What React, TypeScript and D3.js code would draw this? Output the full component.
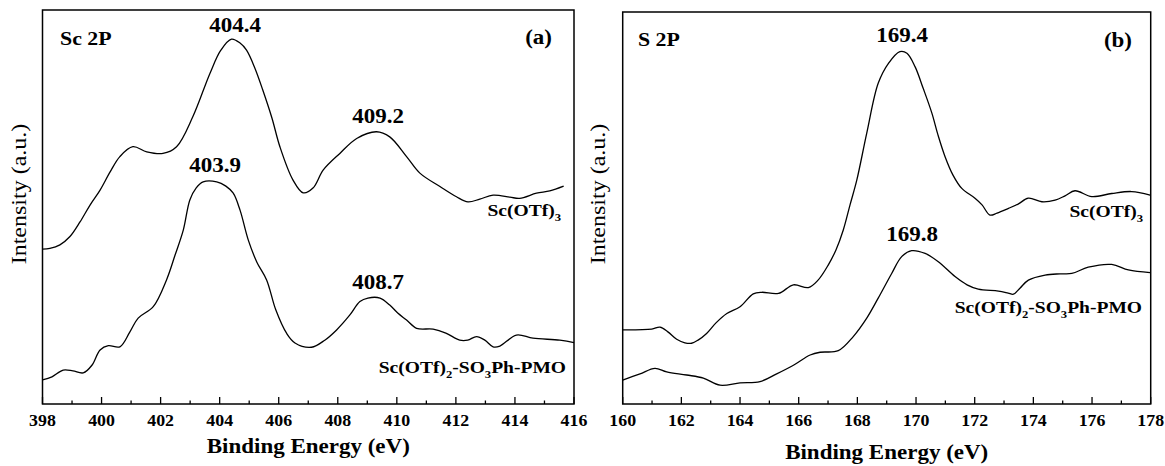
import React from "react";
import * as d3 from "d3";

// ---------- data (energy eV, intensity a.u.) ----------
const scEnergyA = [398.0, 398.25, 398.59, 398.93, 399.27, 399.61, 399.95, 400.29, 400.62, 401.06, 401.53, 402.08, 402.54, 403.09, 403.67, 404.04, 404.4, 404.69, 404.91, 405.19, 405.46, 405.77, 406.04, 406.48, 406.83, 407.16, 407.51, 408.07, 408.64, 409.31, 409.76, 410.33, 410.78, 411.46, 412.02, 412.41, 412.81, 413.26, 413.83, 414.16, 414.73, 415.18, 415.65];
const scOTf3A = [39.3, 39.5, 40.4, 42.5, 46.2, 50.5, 54.3, 58.9, 62.8, 65.3, 64.0, 63.6, 65.3, 72.9, 83.9, 89.8, 92.6, 91.6, 89.8, 85.3, 79.7, 72.6, 65.3, 56.9, 53.6, 54.8, 59.4, 63.6, 67.4, 69.1, 67.8, 62.8, 58.6, 55.2, 52.6, 51.3, 52.0, 53.0, 52.5, 52.2, 53.5, 54.1, 55.3];

const pmoEnergyA = [398.0, 398.32, 398.7, 399.03, 399.38, 399.68, 399.95, 400.23, 400.62, 400.96, 401.24, 401.75, 402.2, 402.49, 402.77, 402.99, 403.2, 403.44, 403.9, 404.21, 404.46, 404.69, 404.97, 405.26, 405.59, 405.9, 406.27, 406.55, 407.11, 407.56, 407.96, 408.41, 408.75, 409.02, 409.43, 409.76, 410.03, 410.33, 410.67, 411.23, 411.66, 412.13, 412.4, 412.7, 412.98, 413.26, 413.49, 414.05, 414.61, 415.52, 416.0];
const pmoA = [6.1, 6.9, 8.6, 8.4, 7.9, 9.9, 13.7, 14.8, 14.5, 18.3, 21.8, 24.7, 31.5, 37.8, 44.2, 51.8, 54.8, 56.4, 56.4, 55.3, 53.5, 49.2, 41.6, 36.0, 31.5, 23.9, 17.9, 15.5, 14.4, 16.2, 18.8, 22.6, 26.0, 26.9, 26.9, 25.1, 23.1, 21.3, 19.2, 19.0, 18.0, 16.2, 16.2, 17.1, 16.2, 14.5, 14.7, 17.5, 16.7, 16.2, 15.6];

const sEnergyB = [160.0, 160.99, 161.27, 161.54, 161.84, 162.12, 162.35, 162.57, 162.86, 163.18, 163.55, 164.0, 164.45, 164.74, 165.31, 165.82, 166.33, 166.66, 167.01, 167.27, 167.52, 167.75, 167.98, 168.32, 168.71, 169.06, 169.45, 169.69, 169.97, 170.24, 170.54, 170.75, 170.99, 171.26, 171.56, 172.01, 172.25, 172.52, 172.76, 173.15, 173.48, 173.83, 174.29, 174.74, 175.08, 175.42, 175.99, 176.67, 177.35, 177.98];
const scOTf3B = [18.9, 19.1, 19.6, 18.4, 16.5, 15.6, 15.5, 16.3, 18.0, 20.7, 23.1, 24.8, 28.1, 28.5, 28.2, 30.4, 29.7, 31.6, 35.5, 39.3, 44.4, 50.8, 57.1, 69.1, 81.8, 86.9, 89.9, 89.5, 86.0, 80.6, 74.2, 68.6, 63.1, 58.4, 55.0, 52.5, 50.8, 48.2, 48.7, 49.9, 51.0, 52.5, 51.6, 52.0, 53.1, 54.4, 52.9, 53.7, 54.2, 53.3];

const pmoEnergyB = [160.0, 160.59, 161.1, 161.5, 162.18, 162.75, 163.32, 164.0, 164.68, 165.25, 165.82, 166.39, 166.73, 167.35, 167.86, 168.32, 168.71, 169.17, 169.51, 169.85, 170.31, 170.76, 171.33, 171.74, 172.12, 172.81, 173.14, 173.32, 173.55, 173.83, 174.4, 174.91, 175.31, 175.87, 176.67, 177.24, 177.98];
const pmoB = [6.1, 7.7, 9.1, 8.2, 7.4, 6.6, 4.8, 5.4, 5.7, 7.7, 9.9, 12.5, 13.2, 13.6, 17.2, 21.9, 27.0, 33.3, 37.6, 39.1, 38.4, 36.3, 32.5, 30.4, 29.3, 28.8, 28.3, 28.0, 29.6, 31.6, 32.9, 33.2, 33.3, 34.9, 35.6, 34.2, 33.5];

const majorTicksA = [398, 400, 402, 404, 406, 408, 410, 412, 414, 416];
const minorTicksA = [399, 401, 403, 405, 407, 409, 411, 413, 415];
const majorTicksB = [160, 162, 164, 166, 168, 170, 172, 174, 176, 178];
const minorTicksB = [161, 163, 165, 167, 169, 171, 173, 175, 177];

const peakTextsA = ["404.4", "403.9", "409.2", "408.7"];
const peakTextsB = ["169.4", "169.8"];

const FONT = "Times New Roman";
const SX = 1.15;

type Pt = [number, number];
const zip = (xs: number[], ys: number[]): Pt[] => xs.map((x, k) => [x, ys[k]]);

function HText({ x, y, size, anchor = "start", weight = "bold", sx = SX, children }: any) {
  return (
    <text
      transform={`translate(${x},${y}) scale(${sx},1)`}
      fontFamily={FONT}
      fontSize={size}
      fontWeight={weight}
      textAnchor={anchor}
      fill="#000"
    >
      {children}
    </text>
  );
}

function Panel({ domain, range, top, series, majors, minors, peaks, tag, title, labelTop, labelBot, yTitleX, xTitleY }: any) {
  const x = d3.scaleLinear().domain(domain).range(range);
  const y = d3.scaleLinear().domain([0, 100]).range([404, top]);
  const line = d3
    .line<Pt>()
    .x((d) => x(d[0]))
    .y((d) => y(d[1]))
    .curve(d3.curveCatmullRom.alpha(0.5));
  const [x0, x1] = range;
  const cx = (x0 + x1) / 2;
  return (
    <g fontFamily={FONT}>
      {series.map((s: Pt[], k: number) => (
        <path key={k} d={line(s) || ""} fill="none" stroke="#000" strokeWidth={1.3} />
      ))}
      <rect x={x0} y={top} width={x1 - x0} height={404 - top} fill="none" stroke="#000" strokeWidth={1.5} />
      {majors.map((t: number) => (
        <g key={"M" + t}>
          <line x1={x(t)} x2={x(t)} y1={404} y2={397} stroke="#000" strokeWidth={1.3} />
          <HText x={x(t)} y={426} size={17} anchor="middle" sx={1.05}>
            {t}
          </HText>
        </g>
      ))}
      {minors.map((t: number) => (
        <line key={"m" + t} x1={x(t)} x2={x(t)} y1={404} y2={400.5} stroke="#000" strokeWidth={1.3} />
      ))}
      {peaks.map((p: any, k: number) => (
        <HText key={k} x={p.lx} y={p.ly} size={20} anchor="middle">
          {p.text}
        </HText>
      ))}
      <HText x={title.x} y={title.y} size={19}>{title.text}</HText>
      <HText x={tag.x} y={tag.y} size={20} anchor="end">{tag.text}</HText>
      <HText x={labelTop.x} y={labelTop.y} size={17} anchor="end">
        Sc(OTf)<tspan fontSize={11} dy={5}>3</tspan>
      </HText>
      <HText x={labelBot.x} y={labelBot.y} size={17} anchor="end">
        Sc(OTf)<tspan fontSize={11} dy={5}>2</tspan>
        <tspan dy={-5}>-SO</tspan>
        <tspan fontSize={11} dy={5}>3</tspan>
        <tspan dy={-5}>Ph-PMO</tspan>
      </HText>
      <text
        transform={`translate(${yTitleX},194) rotate(-90) scale(1.2,1)`}
        fontFamily={FONT}
        fontSize={20}
        textAnchor="middle"
      >
        Intensity (a.u.)
      </text>
      <HText x={cx} y={xTitleY} size={20} anchor="middle">Binding Energy (eV)</HText>
    </g>
  );
}

export default function App() {
  const peaksA = [
    { text: peakTextsA[0], lx: 235, ly: 32 },
    { text: peakTextsA[1], lx: 215, ly: 172 },
    { text: peakTextsA[2], lx: 378, ly: 123 },
    { text: peakTextsA[3], lx: 378, ly: 289 },
  ];
  const peaksB = [
    { text: peakTextsB[0], lx: 902, ly: 42 },
    { text: peakTextsB[1], lx: 912, ly: 241 },
  ];
  return (
    <svg
      width={1165}
      height={466}
      fontFamily={FONT}
      style={{ position: "absolute", left: 0, top: 0, background: "#fff", fontFamily: "Liberation Serif" }}
    >
      <rect width={1165} height={466} fill="#fff" />
      <Panel
        domain={[398, 416]}
        range={[42.5, 574]}
        top={10}
        series={[zip(scEnergyA, scOTf3A), zip(pmoEnergyA, pmoA)]}
        majors={majorTicksA}
        minors={minorTicksA}
        peaks={peaksA}
        tag={{ x: 552, y: 44, text: "(a)" }}
        title={{ x: 60, y: 45, text: "Sc 2P" }}
        labelTop={{ x: 561, y: 216 }}
        labelBot={{ x: 566, y: 373 }}
        yTitleX={26}
        xTitleY={453}
      />
      <Panel
        domain={[160, 178]}
        range={[622.7, 1150.7]}
        top={12}
        series={[zip(sEnergyB, scOTf3B), zip(pmoEnergyB, pmoB)]}
        majors={majorTicksB}
        minors={minorTicksB}
        peaks={peaksB}
        tag={{ x: 1132, y: 47, text: "(b)" }}
        title={{ x: 638, y: 46, text: "S 2P" }}
        labelTop={{ x: 1143, y: 217 }}
        labelBot={{ x: 1142, y: 313 }}
        yTitleX={605}
        xTitleY={459}
      />
    </svg>
  );
}
